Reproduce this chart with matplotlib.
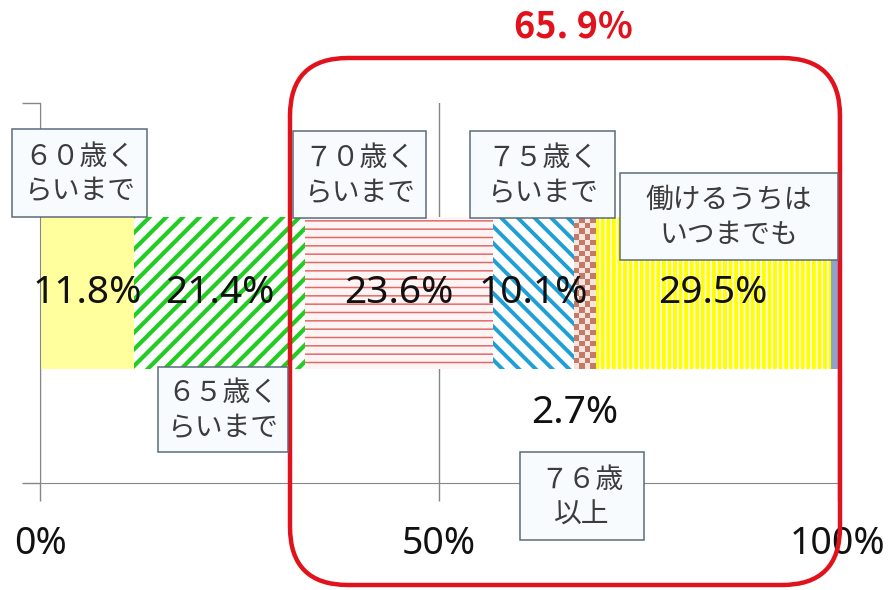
import numpy as np
import matplotlib
matplotlib.use('Agg')
import matplotlib.pyplot as plt
from matplotlib.patches import FancyBboxPatch, Rectangle
from matplotlib.colors import ListedColormap

# ---------------- data ----------------
categories = ['６０歳く\nらいまで', '６５歳く\nらいまで', '７０歳く\nらいまで',
              '７５歳く\nらいまで', '７６歳\n以上', '働けるうちは\nいつまでも', '無回答']
values = [11.8, 21.4, 23.6, 10.1, 2.7, 29.5, 0.9]
value_labels = ['11.8%', '21.4%', '23.6%', '10.1%', '2.7%', '29.5%', '']
xticks = [0, 50, 100]
xtick_labels = ['0%', '50%', '100%']
highlight_label = '65. 9%'

# ---------------- styles ----------------
styles = [
    dict(fc='#FFFF9E', hatch=None, ec='#FFFF9E', hlw=1.0),
    dict(fc='white', hatch='//', ec='#22CC22', hlw=3.0),
    dict(fc='#FFF4F4', hatch='--', ec='#E06A6A', hlw=1.1),
    dict(fc='white', hatch='\\\\', ec='#1E9FD6', hlw=2.8),
    dict(fc='white', hatch=None, ec='white', hlw=1.0),   # checker drawn with imshow
    dict(fc='white', hatch='|||', ec='#FFFF00', hlw=2.8),
    dict(fc='#8FA2CA', hatch=None, ec='#8FA2CA', hlw=1.0),
]

W, H = 893, 590
fig = plt.figure(figsize=(W / 100, H / 100), dpi=100)
fig.patch.set_facecolor('white')

ax = fig.add_axes([40 / W, (H - 483) / H, 798 / W, 380 / H])
ax.set_xlim(0, 100)
ax.set_ylim(-0.5, 0.5)
ax.set_axisbelow(True)

vals = np.array(values)
lefts = np.concatenate([[0], np.cumsum(vals)[:-1]])
bar_h = 0.4

for i, (v, l) in enumerate(zip(vals, lefts)):
    st = styles[i]
    with plt.rc_context({'hatch.linewidth': st['hlw']}):
        b = ax.barh(0, v, left=l, height=bar_h, color=st['fc'],
                    edgecolor=st['ec'], linewidth=0, hatch=st['hatch'], zorder=2)
    for p in b:
        if hasattr(p, 'set_hatch_linewidth'):
            p.set_hatch_linewidth(st['hlw'])

# checker pattern for the 76+ segment
i_chk = 4
ncols, nrows = 4, 27
chk = (np.add.outer(np.arange(nrows), np.arange(ncols)) % 2).astype(float)
ax.imshow(chk, extent=[lefts[i_chk], lefts[i_chk] + vals[i_chk], -bar_h / 2, bar_h / 2],
          cmap=ListedColormap(['#F6E4DE', '#C57A68']), interpolation='nearest',
          aspect='auto', zorder=2.5)
ax.set_xlim(0, 100)
ax.set_ylim(-0.5, 0.5)

# value labels
pct_font = dict(family='Noto Sans', fontsize=28, color='#111111')
for i, (v, l, lab) in enumerate(zip(vals, lefts, value_labels)):
    if not lab:
        continue
    cx = l + v / 2
    if i == i_chk:
        ax.annotate(lab, xy=(cx, 0), xytext=(-10, -120), textcoords='offset pixels',
                    ha='center', va='center', zorder=6, **pct_font)
    else:
        ax.text(cx, 0, lab, ha='center', va='center', zorder=6, **pct_font)

# axes styling
gcol = '#878787'
for s in ['top', 'right']:
    ax.spines[s].set_visible(False)
ax.spines['bottom'].set_color(gcol)
ax.spines['left'].set_color(gcol)
ax.set_xticks(xticks)
ax.set_xticklabels(xtick_labels, family='Noto Sans', fontsize=27, color='#111111')
ax.set_yticks([-0.5, 0.5])
ax.set_yticklabels(['', ''])
ax.tick_params(axis='x', direction='out', length=13, color=gcol, width=1, pad=17)
ax.tick_params(axis='y', direction='out', length=13, color=gcol, width=1)
ax.xaxis.grid(True, color=gcol, linewidth=1)
ax.yaxis.grid(False)

# overlay in pixel coordinates for annotations
ov = fig.add_axes([0, 0, 1, 1], zorder=5)
ov.set_xlim(0, W)
ov.set_ylim(H, 0)
ov.axis('off')
ov.patch.set_alpha(0)

jp = ['Noto Sans CJK JP', 'DejaVu Sans']
boxes = {
    0: (12, 129, 147, 217),
    1: (158, 367, 288, 452),
    2: (293, 131, 426, 218),
    3: (470, 131, 615, 218),
    4: (520, 452, 644, 540),
    5: (620, 173, 838, 260),
}
for i, (x0, y0, x1, y1) in boxes.items():
    ov.add_patch(Rectangle((x0, y0), x1 - x0, y1 - y0, facecolor='#F8FBFE',
                           edgecolor='#5B6B7C', linewidth=1.1, zorder=3))
    ov.text((x0 + x1) / 2, (y0 + y1) / 2 + 1, categories[i], ha='center', va='center',
            family=jp, fontsize=20, color='#3C3C3C', linespacing=1.2, zorder=4)

# red highlight rounded box
ov.add_patch(FancyBboxPatch((290, 58), 550, 527,
                            boxstyle='round,pad=0,rounding_size=58',
                            facecolor='none', edgecolor='#E1121C', linewidth=3.2, zorder=2))
ov.text(573, 27, highlight_label, ha='center', va='center', family=jp,
        fontsize=26, fontweight='bold', color='#E1121C')

fig.savefig('out.png', dpi=100, facecolor='white')
